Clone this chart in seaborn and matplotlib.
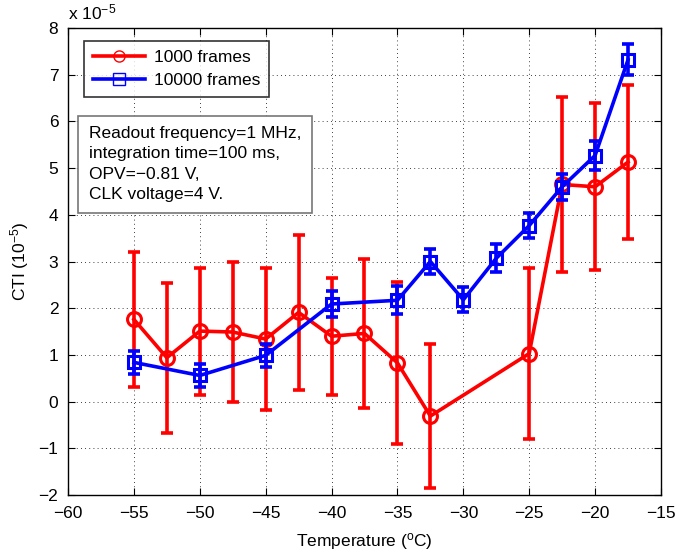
import matplotlib
matplotlib.use("Agg")
import matplotlib.pyplot as plt
import numpy as np
import seaborn as sns
import pandas as pd

# temperatures (deg C) and CTI values in units of 1e-5
temp_1000 = [-55, -52.5, -50, -47.5, -45, -42.5, -40, -37.5, -35, -32.5, -25, -22.5, -20, -17.5]
cti_1000 = [1.76, 0.94, 1.51, 1.49, 1.34, 1.91, 1.40, 1.46, 0.83, -0.31, 1.03, 4.65, 4.60, 5.13]
err_1000 = [1.45, 1.61, 1.36, 1.50, 1.52, 1.66, 1.25, 1.60, 1.74, 1.55, 1.83, 1.87, 1.79, 1.64]

temp_10000 = [-55, -50, -45, -40, -35, -32.5, -30, -27.5, -25, -22.5, -20, -17.5]
cti_10000 = [0.84, 0.56, 0.99, 2.09, 2.17, 3.00, 2.18, 3.07, 3.77, 4.60, 5.27, 7.32]
err_10000 = [0.24, 0.25, 0.25, 0.28, 0.30, 0.27, 0.27, 0.30, 0.27, 0.28, 0.31, 0.33]

labels = ["1000 frames", "10000 frames"]
xticks = list(range(-60, -10, 5))
yticks = list(range(-2, 9))

df = pd.concat([
    pd.DataFrame({"temp": temp_1000, "cti": cti_1000, "series": labels[0]}),
    pd.DataFrame({"temp": temp_10000, "cti": cti_10000, "series": labels[1]}),
])

plt.rcParams['font.family'] = ['Liberation Sans', 'DejaVu Sans']
plt.rcParams['mathtext.default'] = 'regular'
plt.rcParams['font.size'] = 12.5

fig = plt.figure(figsize=(6.94, 5.56), dpi=100)
ax = fig.add_axes([0.098, 0.1097, 0.8544, 0.8399])

colors = {labels[0]: "#ff0000", labels[1]: "#0000ff"}
ax.errorbar(temp_1000, cti_1000, yerr=err_1000, fmt='none', ecolor=colors[labels[0]],
            elinewidth=2.6, capsize=4, capthick=2.6, zorder=2)
ax.errorbar(temp_10000, cti_10000, yerr=err_10000, fmt='none', ecolor=colors[labels[1]],
            elinewidth=2.6, capsize=4, capthick=2.6, zorder=4)
sns.lineplot(data=df, x="temp", y="cti", hue="series", style="series",
             markers={labels[0]: "o", labels[1]: "s"}, dashes=False,
             palette=colors, linewidth=2.6, sort=False, estimator=None, ax=ax)

for l in ax.lines:
    m = l.get_marker()
    if m in ("o", "s"):
        c = l.get_color()
        l.set_markerfacecolor("none")
        l.set_markeredgecolor(c)
        l.set_markeredgewidth(2.2)
        l.set_markersize(10 if m == "o" else 8)
        l.set_zorder(5 if m == "s" else 3)

ax.set_xlim(-60, -15)
ax.set_ylim(-2, 8)
ax.set_xticks(xticks)
ax.set_yticks(yticks)
ax.grid(True, color='black', linestyle=(0, (1, 4)), linewidth=0.6)
ax.tick_params(direction='in', top=True, right=True, length=5, width=0.8, labelsize=12.5)
ax.tick_params(axis='x', pad=8)
ax.tick_params(axis='y', pad=7)
for s in ax.spines.values():
    s.set_linewidth(1.0)
ax.set_xlabel("Temperature ($^{o}$C)", fontsize=12.5, labelpad=7)
ax.set_ylabel("CTI (10$^{-5}$)", fontsize=12.5, labelpad=5)
ax.text(0.0, 1.012, "x 10$^{-5}$", transform=ax.transAxes, fontsize=12.5, ha='left', va='bottom')

leg = ax.legend(loc='upper left', bbox_to_anchor=(0.013, 0.99), fontsize=12.5,
                handlelength=3.0, frameon=True, fancybox=False, edgecolor='black',
                borderpad=0.5, labelspacing=0.45, handletextpad=0.5)
leg.get_frame().set_linewidth(1.2)
for h in leg.legend_handles:
    c = h.get_color()
    h.set_markerfacecolor("none")
    h.set_markeredgecolor(c)
    h.set_markeredgewidth(1.0)
    h.set_markersize(8)

ax.text(0.035, 0.79, "Readout frequency=1 MHz,\nintegration time=100 ms,\nOPV=\u22120.81 V,\nCLK voltage=4 V.",
        transform=ax.transAxes, fontsize=12.5, ha='left', va='top', linespacing=1.45,
        bbox=dict(boxstyle='square,pad=0.6', facecolor='white', edgecolor='#777777', linewidth=1.2))

plt.savefig("out.png", dpi=100)
